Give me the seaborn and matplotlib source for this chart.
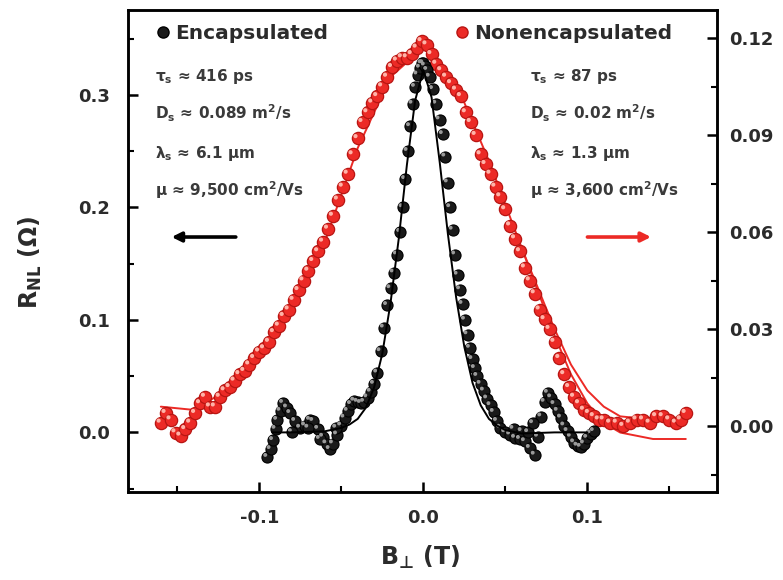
import numpy as np
import pandas as pd
import matplotlib
matplotlib.use("Agg")
import matplotlib.pyplot as plt
import matplotlib.transforms as mtransforms
from matplotlib.lines import Line2D
import seaborn as sns

# ---------------- data ----------------
enc_B = [-0.095, -0.093, -0.0915, -0.090, -0.089, -0.087, -0.0854, -0.083, -0.081, -0.078,
         -0.075, -0.072, -0.069, -0.067, -0.064, -0.061, -0.059, -0.057, -0.055, -0.0525,
         -0.050, -0.048, -0.046, -0.044, -0.042, -0.040, -0.038, -0.036, -0.034, -0.032,
         -0.030, -0.028, -0.026, -0.024, -0.022, -0.020, -0.018, -0.016, -0.014, -0.0125,
         -0.011, -0.0095, -0.008, -0.0065, -0.005, -0.0035, -0.002, -0.001, 0.0, 0.001,
         0.0025, 0.004, 0.006, 0.008, 0.010, 0.012, 0.0135, 0.015, 0.0165, 0.018,
         0.0195, 0.021, 0.0225, 0.024, 0.0255, 0.027, 0.0285, 0.030, 0.0315, 0.033,
         0.035, 0.037, 0.039, 0.041, 0.043, 0.045, 0.047, 0.050, 0.053, 0.056,
         0.059, 0.062, 0.065, 0.068, 0.070, 0.072, 0.074, 0.076, 0.078, 0.080,
         0.082, 0.084, 0.086, 0.088, 0.090, 0.092, 0.094, 0.096, 0.098, 0.100,
         0.102, 0.104,
         0.055, 0.060, 0.064, 0.067, -0.080, -0.070, -0.063, -0.053]
enc_R = [-0.022, -0.015, -0.007, 0.003, 0.011, 0.019, 0.026, 0.022, 0.017, 0.010,
         0.004, 0.006, 0.011, 0.010, 0.003, -0.004, -0.010, -0.015, -0.010, -0.002,
         0.006, 0.013, 0.019, 0.025, 0.028, 0.027, 0.026, 0.027, 0.031, 0.036,
         0.043, 0.053, 0.072, 0.093, 0.113, 0.128, 0.142, 0.158, 0.178, 0.200,
         0.225, 0.250, 0.272, 0.292, 0.307, 0.318, 0.324, 0.328, 0.328, 0.326,
         0.322, 0.316, 0.305, 0.292, 0.278, 0.265, 0.245, 0.222, 0.200, 0.180,
         0.158, 0.140, 0.127, 0.114, 0.100, 0.087, 0.075, 0.065, 0.057, 0.050,
         0.043, 0.037, 0.030, 0.024, 0.018, 0.010, 0.004, 0.000, -0.002, -0.005,
         -0.006, -0.008, -0.014, -0.020, -0.004, 0.014, 0.027, 0.035, 0.031, 0.025,
         0.019, 0.013, 0.006, 0.001, -0.004, -0.009, -0.012, -0.013, -0.010, -0.005,
         -0.001, 0.001,
         0.003, 0.001, 0.000, 0.008, 0.000, 0.004, -0.006, 0.004]

enc_fit_B = [-0.092, -0.08, -0.06, -0.05, -0.045, -0.04, -0.035, -0.03, -0.025, -0.02,
             -0.015, -0.01, -0.005, 0.0, 0.005, 0.01, 0.015, 0.02, 0.025, 0.03,
             0.035, 0.04, 0.045, 0.05, 0.06, 0.08, 0.10]
enc_fit_R = [0.0, 0.0, 0.001, 0.004, 0.007, 0.012, 0.022, 0.040, 0.070, 0.115,
             0.172, 0.238, 0.295, 0.322, 0.298, 0.240, 0.176, 0.120, 0.076, 0.044,
             0.024, 0.012, 0.006, 0.002, -0.001, 0.0, 0.0]

non_B = [-0.160, -0.157, -0.154, -0.151, -0.148, -0.145, -0.142, -0.139, -0.136, -0.133,
         -0.130, -0.127, -0.124, -0.121, -0.118, -0.115, -0.112, -0.109, -0.106, -0.103,
         -0.100, -0.097, -0.094, -0.091, -0.088, -0.085, -0.082, -0.079, -0.076, -0.073,
         -0.070, -0.067, -0.064, -0.061, -0.058, -0.055, -0.052, -0.049, -0.046, -0.043,
         -0.040, -0.037, -0.034, -0.031, -0.028, -0.025, -0.022, -0.019, -0.016, -0.013,
         -0.010, -0.007, -0.004, -0.001, 0.002, 0.005, 0.008, 0.011, 0.014, 0.017,
         0.020, 0.023, 0.026, 0.029, 0.032, 0.035, 0.038, 0.041, 0.044, 0.047,
         0.050, 0.053, 0.056, 0.059, 0.062, 0.065, 0.068, 0.071, 0.074, 0.077,
         0.080, 0.083, 0.086, 0.089, 0.092, 0.095, 0.098, 0.101, 0.104, 0.107,
         0.110, 0.114, 0.118, 0.122, 0.126, 0.130, 0.134, 0.138, 0.142, 0.146,
         0.150, 0.154, 0.157, 0.160]
non_R = [0.001, 0.004, 0.002, -0.002, -0.003, -0.001, 0.001, 0.004, 0.007, 0.009,
         0.006, 0.006, 0.009, 0.011, 0.012, 0.014, 0.016, 0.017, 0.019, 0.021,
         0.023, 0.024, 0.026, 0.029, 0.031, 0.034, 0.036, 0.039, 0.042, 0.045,
         0.048, 0.051, 0.054, 0.057, 0.061, 0.065, 0.070, 0.074, 0.078, 0.084,
         0.089, 0.094, 0.097, 0.100, 0.102, 0.105, 0.108, 0.111, 0.113, 0.114,
         0.114, 0.115, 0.117, 0.119, 0.118, 0.115, 0.112, 0.110, 0.108, 0.106,
         0.104, 0.102, 0.097, 0.094, 0.090, 0.084, 0.081, 0.078, 0.074, 0.071,
         0.067, 0.062, 0.058, 0.054, 0.049, 0.045, 0.041, 0.036, 0.033, 0.030,
         0.026, 0.021, 0.016, 0.012, 0.009, 0.007, 0.005, 0.004, 0.003, 0.002,
         0.002, 0.001, 0.001, 0.000, 0.001, 0.002, 0.002, 0.001, 0.003, 0.003,
         0.002, 0.001, 0.002, 0.004]

non_fitA_B = [-0.16, -0.14, -0.12, -0.10, -0.08, -0.06, -0.04, -0.02, 0.0, 0.02,
              0.04, 0.06, 0.08, 0.09, 0.10, 0.11, 0.12, 0.14, 0.16]
non_fitA_R = [0.006, 0.005, 0.011, 0.021, 0.036, 0.057, 0.086, 0.108, 0.117, 0.106,
              0.082, 0.055, 0.030, 0.019, 0.011, 0.006, 0.003, 0.002, 0.002]
non_fitB_B = [0.06, 0.08, 0.09, 0.10, 0.11, 0.12, 0.14, 0.16]
non_fitB_R = [0.055, 0.028, 0.016, 0.007, 0.001, -0.002, -0.004, -0.004]

left_ticks = [0.0, 0.1, 0.2, 0.3]
right_ticks = [0.00, 0.03, 0.06, 0.09, 0.12]
x_ticks = [-0.1, 0.0, 0.1]

enc_params = ["τ$_\\mathregular{s}$ ≈ 416 ps",
              "D$_\\mathregular{s}$ ≈ 0.089 m$^\\mathregular{2}$/s",
              "λ$_\\mathregular{s}$ ≈ 6.1 µm",
              "µ ≈ 9,500 cm$^\\mathregular{2}$/Vs"]
non_params = ["τ$_\\mathregular{s}$ ≈ 87 ps",
              "D$_\\mathregular{s}$ ≈ 0.02 m$^\\mathregular{2}$/s",
              "λ$_\\mathregular{s}$ ≈ 1.3 µm",
              "µ ≈ 3,600 cm$^\\mathregular{2}$/Vs"]

# ---------------- style ----------------
sns.set_theme(style="ticks")
plt.rcParams["font.family"] = ["DejaVu Sans"]
plt.rcParams["font.weight"] = "bold"
plt.rcParams["mathtext.fontset"] = "custom"
plt.rcParams["mathtext.rm"] = "DejaVu Sans:bold"
plt.rcParams["mathtext.bf"] = "DejaVu Sans:bold"
plt.rcParams["mathtext.it"] = "DejaVu Sans:bold"
plt.rcParams["mathtext.sf"] = "DejaVu Sans"
plt.rcParams["axes.linewidth"] = 1.8

RED = "#ec2a26"
RED_EDGE = "#b81512"
TXT = "#2b2b2b"

fig = plt.figure(figsize=(7.83, 5.80), dpi=100)
ax = fig.add_axes([0.1635, 0.1517, 0.7522, 0.8311])
ax2 = ax.twinx()
ax.set_zorder(ax2.get_zorder() + 1)
ax.patch.set_visible(False)

enc_df = pd.DataFrame({"B": enc_B, "R": enc_R})
non_df = pd.DataFrame({"B": non_B, "R": non_R})

# nonencapsulated (right axis)
sns.lineplot(x=non_fitA_B, y=non_fitA_R, ax=ax2, color=RED, lw=1.4, sort=False, zorder=1)
sns.lineplot(x=non_fitB_B, y=non_fitB_R, ax=ax2, color=RED, lw=1.4, sort=False, zorder=1)
sns.scatterplot(data=non_df, x="B", y="R", ax=ax2, s=78, color=RED,
                edgecolor=RED_EDGE, linewidth=0.9, zorder=2)
sns.scatterplot(data=non_df, x="B", y="R", ax=ax2, s=9, color="#ffb3a8",
                edgecolor="none", linewidth=0, zorder=3)
off = mtransforms.ScaledTranslation(-1.6 / 72, 1.6 / 72, fig.dpi_scale_trans)
ax2.collections[-1].set_offset_transform(ax2.transData + off)

# encapsulated (left axis)
sns.scatterplot(data=enc_df, x="B", y="R", ax=ax, s=64, color="#1a1a1a",
                edgecolor="#000000", linewidth=0.8, zorder=2)
sns.scatterplot(data=enc_df, x="B", y="R", ax=ax, s=8, color="#9a9a9a",
                edgecolor="none", linewidth=0, zorder=3)
ax.collections[-1].set_offset_transform(ax.transData + off)
sns.lineplot(x=enc_fit_B, y=enc_fit_R, ax=ax, color="black", lw=1.4, sort=False, zorder=4)

# limits / ticks
ax.set_xlim(-0.18, 0.179)
ax.set_ylim(-0.053, 0.3755)
ax2.set_ylim(-0.0204, 0.1287)
ax.set_xticks(x_ticks)
ax.set_xticklabels(["-0.1", "0.0", "0.1"])
ax.set_xticks([-0.15, -0.05, 0.05, 0.15], minor=True)
ax.set_yticks(left_ticks)
ax.set_yticklabels(["0.0", "0.1", "0.2", "0.3"])
ax.set_yticks([-0.05, 0.05, 0.15, 0.25, 0.35], minor=True)
ax2.set_yticks(right_ticks)
ax2.set_yticklabels(["0.00", "0.03", "0.06", "0.09", "0.12"])
ax2.set_yticks([-0.015, 0.015, 0.045, 0.075, 0.105], minor=True)

for a in (ax, ax2):
    a.tick_params(which="major", direction="in", length=7, width=1.8,
                  labelsize=13, colors="black", labelcolor=TXT)
    a.tick_params(which="minor", direction="in", length=4.5, width=1.5, colors="black")
    for sp in a.spines.values():
        sp.set_linewidth(1.8)
        sp.set_color("black")
        sp.set_visible(True)
ax.tick_params(axis="y", which="both", right=False, left=True, pad=13)
ax.tick_params(axis="x", which="both", top=False, bottom=True, pad=12)
ax2.tick_params(axis="y", which="both", right=True, left=False, pad=9)
ax2.tick_params(axis="x", which="both", top=False, bottom=False)
for lab in ax.get_xticklabels() + ax.get_yticklabels() + ax2.get_yticklabels():
    lab.set_fontweight("bold")

ax.set_xlabel("B$_{\\mathsf{⊥}}$ (T)", fontsize=17, color=TXT, fontweight="bold")
ax.set_ylabel("R$_{\\mathregular{NL}}$ (Ω)", fontsize=17, color=TXT, fontweight="bold")
ax.xaxis.set_label_coords(0.496, -0.108)
ax.yaxis.set_label_coords(-0.142, 0.477)
ax2.set_ylabel("")

# legends
h_enc = Line2D([], [], marker="o", ls="none", markersize=8, markerfacecolor="#1a1a1a",
               markeredgecolor="black")
h_non = Line2D([], [], marker="o", ls="none", markersize=8, markerfacecolor=RED,
               markeredgecolor=RED_EDGE)
leg1 = ax.legend([h_enc], ["Encapsulated"], loc="upper left", bbox_to_anchor=(0.018, 1.0),
                 frameon=False, handletextpad=0.1, borderaxespad=0.3,
                 prop={"size": 14.5, "weight": "bold"}, handlelength=1.0)
for t in leg1.get_texts():
    t.set_color(TXT)
ax.add_artist(leg1)
leg2 = ax.legend([h_non], ["Nonencapsulated"], loc="upper left", bbox_to_anchor=(0.526, 1.0),
                 frameon=False, handletextpad=0.1, borderaxespad=0.3,
                 prop={"size": 14.5, "weight": "bold"}, handlelength=1.0)
for t in leg2.get_texts():
    t.set_color(TXT)

# parameter text
ys = [0.861, 0.786, 0.703, 0.627]
for y, s in zip(ys, enc_params):
    ax.text(0.046, y, s, transform=ax.transAxes, fontsize=11, fontweight="bold",
            color="#3a3a3a", va="center", ha="left")
for y, s in zip(ys, non_params):
    ax.text(0.683, y, s, transform=ax.transAxes, fontsize=11, fontweight="bold",
            color="#3a3a3a", va="center", ha="left")

# arrows
ax.annotate("", xy=(0.074, 0.529), xytext=(0.183, 0.529), xycoords="axes fraction",
            arrowprops=dict(arrowstyle="-|>", lw=2.6, color="black", mutation_scale=14,
                            shrinkA=0, shrinkB=0))
ax.annotate("", xy=(0.888, 0.529), xytext=(0.78, 0.529), xycoords="axes fraction",
            arrowprops=dict(arrowstyle="-|>", lw=2.6, color=RED, mutation_scale=14,
                            shrinkA=0, shrinkB=0))

fig.savefig("out.png", dpi=100)
